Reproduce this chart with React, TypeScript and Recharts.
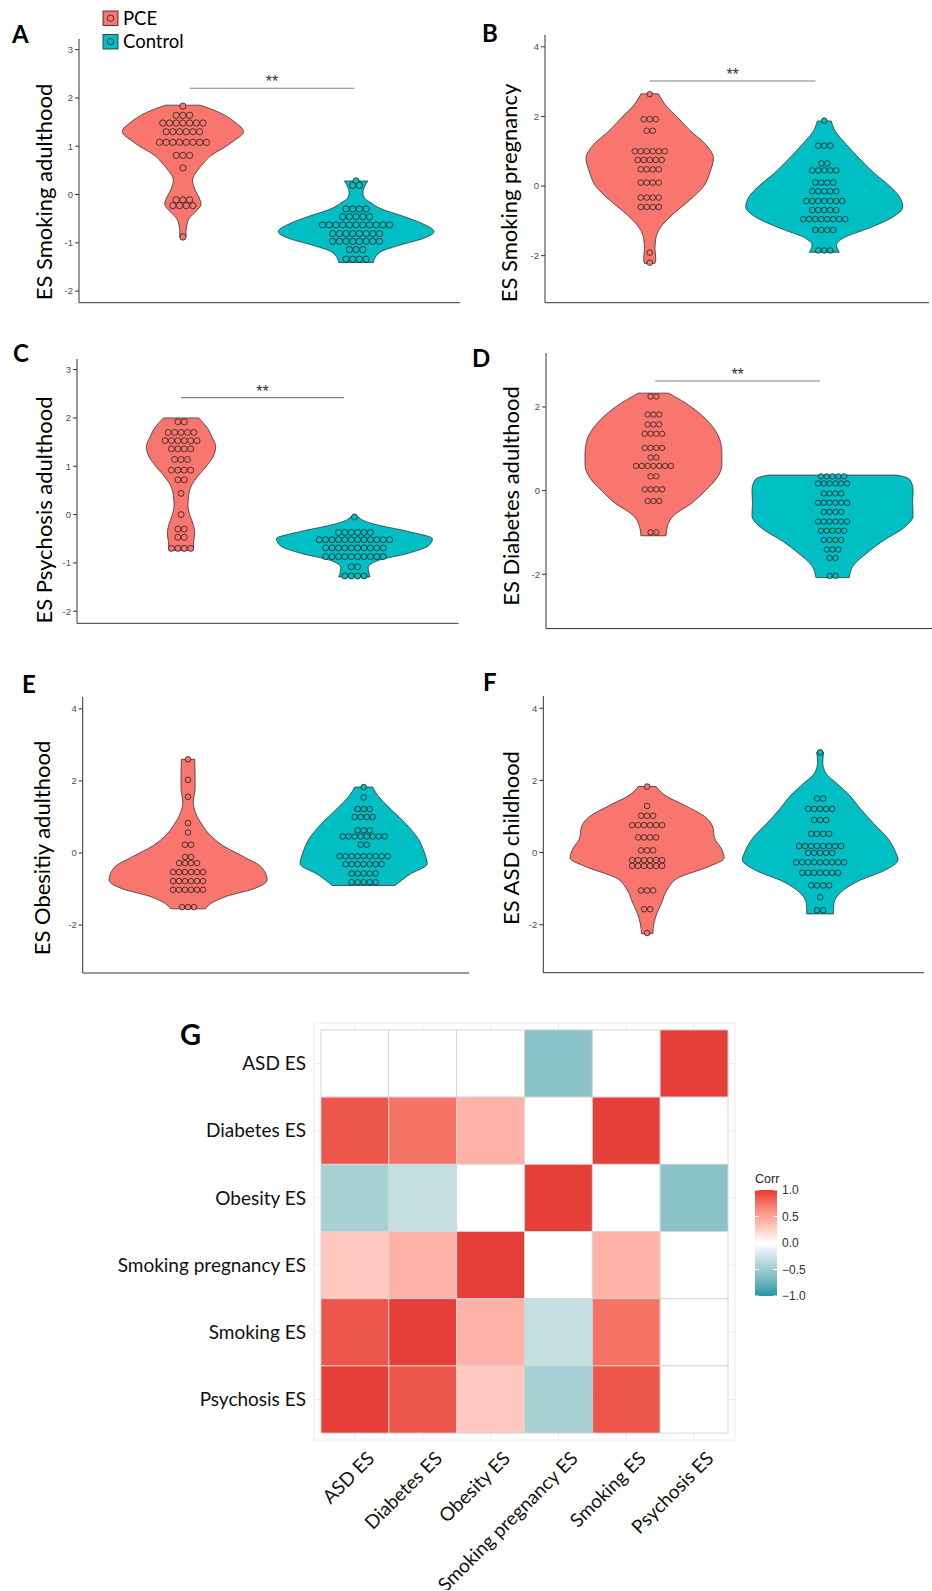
import React from 'react'
import {
  ComposedChart, ScatterChart, Area, Line, Scatter, XAxis, YAxis, ReferenceLine, CartesianGrid,
} from 'recharts'

const PCE_FILL = '#F8766D'
const CTL_FILL = '#00BFC4'
const OUTLINE = '#333333'
const GROUPS = ['PCE', 'Control']

// violin outlines: y value and half width (x units, groups sit at 1 and 2)
const A_PCE_Y = [-0.88, -0.75, -0.65, -0.5, -0.35, -0.2, -0.1, 0.1, 0.3, 0.5, 0.65, 0.8, 1.0, 1.1, 1.3, 1.5, 1.7, 1.85]
const A_PCE_W = [0.018, 0.018, 0.022, 0.035, 0.075, 0.105, 0.098, 0.07, 0.055, 0.085, 0.12, 0.16, 0.25, 0.29, 0.35, 0.3, 0.21, 0.1]
const A_CTL_Y = [-1.41, -1.28, -1.18, -1.04, -0.9, -0.77, -0.59, -0.46, -0.28, -0.18, -0.08, 0.03, 0.17, 0.28]
const A_CTL_W = [0.1, 0.115, 0.145, 0.26, 0.395, 0.45, 0.375, 0.28, 0.135, 0.09, 0.05, 0.04, 0.05, 0.067]

const B_PCE_Y = [-2.22, -2.1, -1.8, -1.5, -1.2, -0.8, -0.4, 0.0, 0.4, 0.8, 1.2, 1.6, 2.0, 2.3, 2.65]
const B_PCE_W = [0.03, 0.035, 0.03, 0.035, 0.06, 0.135, 0.23, 0.31, 0.345, 0.365, 0.32, 0.23, 0.155, 0.095, 0.05]
const B_CTL_Y = [-1.9, -1.7, -1.5, -1.2, -0.9, -0.6, -0.3, 0.0, 0.4, 0.8, 1.2, 1.6, 1.87]
const B_CTL_W = [0.086, 0.07, 0.107, 0.26, 0.39, 0.45, 0.43, 0.375, 0.28, 0.2, 0.126, 0.06, 0.04]

const C_PCE_Y = [-0.74, -0.55, -0.4, -0.2, 0.0, 0.2, 0.4, 0.6, 0.8, 1.0, 1.2, 1.4, 1.6, 1.8, 2.0]
const C_PCE_W = [0.07, 0.073, 0.079, 0.07, 0.05, 0.04, 0.044, 0.06, 0.098, 0.146, 0.185, 0.2, 0.18, 0.15, 0.102]
const C_CTL_Y = [-1.29, -1.1, -0.95, -0.8, -0.65, -0.5, -0.35, -0.2, -0.12, -0.05]
const C_CTL_W = [0.09, 0.079, 0.137, 0.31, 0.425, 0.45, 0.31, 0.117, 0.05, 0.023]

const D_PCE_Y = [-1.08, -0.85, -0.6, -0.3, 0.0, 0.3, 0.6, 0.9, 1.2, 1.5, 1.8, 2.1, 2.33]
const D_PCE_W = [0.07, 0.078, 0.112, 0.214, 0.29, 0.354, 0.382, 0.382, 0.372, 0.335, 0.27, 0.177, 0.084]
const D_CTL_Y = [-2.08, -1.8, -1.5, -1.2, -0.9, -0.6, -0.3, 0.0, 0.2, 0.3, 0.37]
const D_CTL_W = [0.093, 0.115, 0.19, 0.283, 0.395, 0.45, 0.447, 0.45, 0.44, 0.42, 0.36]

const E_PCE_Y = [-1.55, -1.4, -1.2, -1.0, -0.75, -0.4, -0.1, 0.2, 0.5, 0.8, 1.1, 1.4, 1.8, 2.2, 2.6]
const E_PCE_W = [0.1, 0.13, 0.22, 0.37, 0.45, 0.42, 0.315, 0.2, 0.125, 0.078, 0.044, 0.03, 0.04, 0.04, 0.038]
const E_CTL_Y = [-0.9, -0.6, -0.3, 0.0, 0.4, 0.8, 1.2, 1.6, 1.83]
const E_CTL_W = [0.18, 0.26, 0.362, 0.347, 0.31, 0.243, 0.158, 0.08, 0.051]

const F_PCE_Y = [-2.25, -2.1, -1.8, -1.4, -1.0, -0.7, -0.4, -0.15, 0.1, 0.4, 0.7, 1.0, 1.3, 1.6, 1.83]
const F_PCE_W = [0.033, 0.035, 0.048, 0.083, 0.12, 0.18, 0.35, 0.445, 0.43, 0.39, 0.38, 0.333, 0.22, 0.1, 0.052]
const F_CTL_Y = [-1.7, -1.4, -1.1, -0.8, -0.5, -0.2, 0.0, 0.4, 0.8, 1.2, 1.6, 1.9, 2.2, 2.5, 2.78]
const F_CTL_W = [0.077, 0.08, 0.12, 0.216, 0.37, 0.45, 0.437, 0.39, 0.31, 0.235, 0.167, 0.1, 0.033, 0.015, 0.02]

// dot plot rows: bin value and number of stacked dots
const A_PCE_DOT_Y = [1.83, 1.64, 1.48, 1.3, 1.08, 0.81, 0.55, -0.11, -0.23, -0.88]
const A_PCE_DOT_N = [1, 3, 7, 6, 8, 3, 1, 3, 4, 1]
const A_CTL_DOT_Y = [0.28, 0.19, -0.3, -0.46, -0.63, -0.81, -0.97, -1.14, -1.34]
const A_CTL_DOT_N = [1, 2, 4, 5, 11, 8, 8, 3, 4]

const B_PCE_DOT_Y = [2.64, 1.92, 1.59, 1.0, 0.75, 0.48, 0.1, -0.33, -0.6, -1.91, -2.2]
const B_PCE_DOT_N = [1, 3, 2, 6, 5, 4, 4, 4, 4, 1, 1]
const B_CTL_DOT_Y = [1.88, 1.16, 0.65, 0.45, 0.1, -0.15, -0.43, -0.69, -0.95, -1.26, -1.85]
const B_CTL_DOT_N = [1, 3, 2, 5, 4, 5, 7, 5, 8, 4, 3]

const C_PCE_DOT_Y = [1.92, 1.7, 1.53, 1.36, 1.14, 0.92, 0.72, 0.44, 0.0, -0.3, -0.47, -0.7]
const C_PCE_DOT_N = [2, 5, 6, 4, 3, 4, 2, 1, 1, 2, 2, 4]
const C_CTL_DOT_Y = [-0.05, -0.37, -0.52, -0.69, -0.87, -1.08, -1.27]
const C_CTL_DOT_N = [1, 6, 12, 10, 10, 2, 4]

const D_PCE_DOT_Y = [2.25, 1.82, 1.58, 1.36, 1.02, 0.79, 0.59, 0.34, 0.03, -0.25, -1.0]
const D_PCE_DOT_N = [2, 3, 3, 4, 4, 2, 7, 2, 4, 3, 2]
const D_CTL_DOT_Y = [0.34, 0.17, -0.07, -0.29, -0.51, -0.74, -0.96, -1.18, -1.41, -1.61, -2.04]
const D_CTL_DOT_N = [5, 6, 4, 6, 4, 6, 5, 4, 3, 2, 2]

const E_PCE_DOT_Y = [2.6, 2.03, 1.56, 0.83, 0.57, 0.23, -0.11, -0.28, -0.53, -0.78, -1.02, -1.5]
const E_PCE_DOT_N = [1, 1, 1, 1, 1, 2, 2, 4, 6, 6, 6, 3]
const E_CTL_DOT_Y = [1.83, 1.54, 1.22, 1.0, 0.63, 0.46, 0.23, -0.09, -0.31, -0.57, -0.81]
const E_CTL_DOT_N = [1, 1, 3, 4, 3, 8, 2, 9, 7, 5, 5]

const F_PCE_DOT_Y = [1.83, 1.29, 1.02, 0.76, 0.42, 0.06, -0.21, -0.37, -1.05, -1.57, -2.23]
const F_PCE_DOT_N = [1, 1, 3, 6, 4, 3, 6, 6, 3, 2, 1]
const F_CTL_DOT_Y = [2.78, 1.5, 1.21, 0.9, 0.52, 0.18, -0.01, -0.27, -0.56, -0.91, -1.24, -1.6]
const F_CTL_DOT_N = [1, 2, 5, 3, 4, 8, 5, 9, 7, 4, 1, 2]

const TICKS_FULL = [-2, -1, 0, 1, 2, 3]
const TICKS_WIDE = [-2, 0, 2, 4]
const TICKS_D = [-2, 0, 2]

// heatmap (rows listed top to bottom)
const HEAT_COLS = ['ASD ES', 'Diabetes ES', 'Obesity ES', 'Smoking pregnancy ES', 'Smoking ES', 'Psychosis ES']
const HEAT_ROWS = ['ASD ES', 'Diabetes ES', 'Obesity ES', 'Smoking pregnancy ES', 'Smoking ES', 'Psychosis ES']
const CORR_ASD = [0, 0, 0, -0.6, 0, 0.98]
const CORR_DIABETES = [0.88, 0.75, 0.42, 0, 0.98, 0]
const CORR_OBESITY = [-0.45, -0.3, 0, 0.98, 0, -0.6]
const CORR_SMOKING_PREG = [0.3, 0.42, 0.98, 0, 0.42, 0]
const CORR_SMOKING = [0.88, 0.98, 0.42, -0.3, 0.75, 0]
const CORR_PSYCHOSIS = [0.98, 0.88, 0.3, -0.45, 0.88, 0]
const CORR_MATRIX = [CORR_ASD, CORR_DIABETES, CORR_OBESITY, CORR_SMOKING_PREG, CORR_SMOKING, CORR_PSYCHOSIS]
const LEGEND_TICKS = [1, 0.5, 0, -0.5, -1]

const HIGH = '#E53935'
const LOW = '#1F9AA5'

// ---- colour helpers (Lab interpolation like scale_fill_gradient2)
function hexToRgb(h: string) {
  const n = parseInt(h.slice(1), 16)
  return [(n >> 16) & 255, (n >> 8) & 255, n & 255]
}
const toLin = (c: number) => {
  c /= 255
  return c <= 0.04045 ? c / 12.92 : Math.pow((c + 0.055) / 1.055, 2.4)
}
const fromLin = (c: number) => {
  const v = c <= 0.0031308 ? 12.92 * c : 1.055 * Math.pow(c, 1 / 2.4) - 0.055
  return Math.round(Math.max(0, Math.min(1, v)) * 255)
}
const fLab = (t: number) => (t > 0.008856 ? Math.cbrt(t) : 7.787 * t + 16 / 116)
const fInv = (t: number) => (t > 0.2069 ? t * t * t : (t - 16 / 116) / 7.787)
function rgbToLab(rgb: number[]) {
  const [r, g, b] = rgb.map(toLin)
  const X = (0.4124 * r + 0.3576 * g + 0.1805 * b) / 0.95047
  const Y = 0.2126 * r + 0.7152 * g + 0.0722 * b
  const Z = (0.0193 * r + 0.1192 * g + 0.9505 * b) / 1.08883
  return [116 * fLab(Y) - 16, 500 * (fLab(X) - fLab(Y)), 200 * (fLab(Y) - fLab(Z))]
}
function labToHex(lab: number[]) {
  const fy = (lab[0] + 16) / 116
  const X = fInv(fy + lab[1] / 500) * 0.95047
  const Y = fInv(fy)
  const Z = fInv(fy - lab[2] / 200) * 1.08883
  const r = 3.2406 * X - 1.5372 * Y - 0.4986 * Z
  const g = -0.9689 * X + 1.8758 * Y + 0.0415 * Z
  const b = 0.0557 * X - 0.204 * Y + 1.057 * Z
  return '#' + [r, g, b].map(fromLin).map(v => v.toString(16).padStart(2, '0')).join('')
}
const WHITE_LAB = rgbToLab([255, 255, 255])
const HIGH_LAB = rgbToLab(hexToRgb(HIGH))
const LOW_LAB = rgbToLab(hexToRgb(LOW))
function corrColor(v: number) {
  const end = v >= 0 ? HIGH_LAB : LOW_LAB
  const t = Math.min(1, Math.abs(v))
  return labToHex(WHITE_LAB.map((w, i) => w + (end[i] - w) * t))
}

// ---- violin panels
type Profile = { y: number[]; w: number[] }
type Stack = { y: number[]; n: number[] }
type Panel = {
  letter: string; title: string
  pce: Profile; ctl: Profile; pceDots: Stack; ctlDots: Stack
  domain: [number, number]; ticks: number[]
  wrapX: number; plotX: number; plotR: number; plotT: number; plotB: number
  titleX: number; titleY: number; dotD: number
  letterX: number; letterY: number
  sig: { y: number; x1: number; x2: number } | null
}

const PANELS: Panel[] = [
  {
    letter: 'A', title: 'ES Smoking adulthood',
    pce: { y: A_PCE_Y, w: A_PCE_W }, ctl: { y: A_CTL_Y, w: A_CTL_W },
    pceDots: { y: A_PCE_DOT_Y, n: A_PCE_DOT_N }, ctlDots: { y: A_CTL_DOT_Y, n: A_CTL_DOT_N },
    domain: [-2.24, 3.22], ticks: TICKS_FULL,
    wrapX: 0, plotX: 79, plotR: 460, plotT: 39, plotB: 302.7, titleX: 46, titleY: 192, dotD: 6.7,
    letterX: 12, letterY: 43, sig: { y: 2.2, x1: 1.04, x2: 1.99 },
  },
  {
    letter: 'B', title: 'ES Smoking pregnancy',
    pce: { y: B_PCE_Y, w: B_PCE_W }, ctl: { y: B_CTL_Y, w: B_CTL_W },
    pceDots: { y: B_PCE_DOT_Y, n: B_PCE_DOT_N }, ctlDots: { y: B_CTL_DOT_Y, n: B_CTL_DOT_N },
    domain: [-3.35, 4.34], ticks: TICKS_WIDE,
    wrapX: 466, plotX: 545, plotR: 929, plotT: 35, plotB: 302.7, titleX: 511, titleY: 193, dotD: 6.0,
    letterX: 482, letterY: 42, sig: { y: 3.02, x1: 1.0, x2: 1.95 },
  },
  {
    letter: 'C', title: 'ES Psychosis adulthood',
    pce: { y: C_PCE_Y, w: C_PCE_W }, ctl: { y: C_CTL_Y, w: C_CTL_W },
    pceDots: { y: C_PCE_DOT_Y, n: C_PCE_DOT_N }, ctlDots: { y: C_CTL_DOT_Y, n: C_CTL_DOT_N },
    domain: [-2.25, 3.22], ticks: TICKS_FULL,
    wrapX: 0, plotX: 77, plotR: 458.5, plotT: 359, plotB: 623.3, titleX: 46, titleY: 510, dotD: 6.4,
    letterX: 13, letterY: 362, sig: { y: 2.42, x1: 1.0, x2: 1.94 },
  },
  {
    letter: 'D', title: 'ES Diabetes adulthood',
    pce: { y: D_PCE_Y, w: D_PCE_W }, ctl: { y: D_CTL_Y, w: D_CTL_W },
    pceDots: { y: D_PCE_DOT_Y, n: D_PCE_DOT_N }, ctlDots: { y: D_CTL_DOT_Y, n: D_CTL_DOT_N },
    domain: [-3.3, 3.29], ticks: TICKS_D,
    wrapX: 466, plotX: 546, plotR: 940, plotT: 352.7, plotB: 628.3, titleX: 513, titleY: 496, dotD: 5.8,
    letterX: 472, letterY: 367, sig: { y: 2.62, x1: 1.01, x2: 1.93 },
  },
  {
    letter: 'E', title: 'ES Obesitiy adulthood',
    pce: { y: E_PCE_Y, w: E_PCE_W }, ctl: { y: E_CTL_Y, w: E_CTL_W },
    pceDots: { y: E_PCE_DOT_Y, n: E_PCE_DOT_N }, ctlDots: { y: E_CTL_DOT_Y, n: E_CTL_DOT_N },
    domain: [-3.33, 4.33], ticks: TICKS_WIDE,
    wrapX: 0, plotX: 82.7, plotR: 469, plotT: 696.7, plotB: 972.7, titleX: 44, titleY: 848, dotD: 6.0,
    letterX: 22, letterY: 693, sig: null,
  },
  {
    letter: 'F', title: 'ES ASD childhood',
    pce: { y: F_PCE_Y, w: F_PCE_W }, ctl: { y: F_CTL_Y, w: F_CTL_W },
    pceDots: { y: F_PCE_DOT_Y, n: F_PCE_DOT_N }, ctlDots: { y: F_CTL_DOT_Y, n: F_CTL_DOT_N },
    domain: [-3.33, 4.34], ticks: TICKS_WIDE,
    wrapX: 466, plotX: 543.3, plotR: 924, plotT: 696, plotB: 972.7, titleX: 513.5, titleY: 838, dotD: 6.0,
    letterX: 483, letterY: 691, sig: null,
  },
]

// one row per outline sample; the other group's keys stay empty so its curves break there
function violinRows(pce: Profile, ctl: Profile) {
  const rows: any[] = []
  pce.y.forEach((y, i) => rows.push({ y, pce: [1 - pce.w[i], 1 + pce.w[i]], pceL: 1 - pce.w[i], pceR: 1 + pce.w[i] }))
  ctl.y.forEach((y, i) => rows.push({ y, ctl: [2 - ctl.w[i], 2 + ctl.w[i]], ctlL: 2 - ctl.w[i], ctlR: 2 + ctl.w[i] }))
  return rows
}

// centred dot stacks like geom_dotplot(stackdir = 'center')
function dotPoints(s: Stack, center: number, step: number) {
  const pts: { x: number; y: number }[] = []
  s.y.forEach((y, i) => {
    const n = s.n[i]
    for (let k = 0; k < n; k++) pts.push({ x: center + (k - (n - 1) / 2) * step, y })
  })
  return pts
}

function flatEnds(p: Profile, center: number, key: string) {
  return [0, p.y.length - 1].map(i => (
    <ReferenceLine
      key={key + i}
      segment={[{ x: center - p.w[i], y: p.y[i] }, { x: center + p.w[i], y: p.y[i] }]}
      stroke={OUTLINE}
      strokeWidth={0.8}
      ifOverflow="visible"
    />
  ))
}

function edgeLine(key: string) {
  return (
    <Line key={key} dataKey={key} type="monotone" stroke={OUTLINE} strokeWidth={0.8}
      dot={false} activeDot={false} legendType="none" isAnimationActive={false} />
  )
}

function ViolinPanel({ p }: { p: Panel }) {
  const mt = 12
  const yw = p.plotX - p.wrapX
  const plotW = p.plotR - p.plotX
  const plotH = p.plotB - p.plotT
  const step = p.dotD / (plotW / 2.2)
  const r = p.dotD / 2 - 0.2
  const dot = (fill: string) => (props: any) => (
    <circle cx={props.cx} cy={props.cy} r={r} fill={fill} stroke="#1a1a1a" strokeWidth={0.75} />
  )
  return (
    <div style={{ position: 'absolute', left: p.wrapX, top: p.plotT - mt }}>
      <ComposedChart
        layout="vertical"
        width={yw + plotW + 2}
        height={mt + plotH + 10}
        data={violinRows(p.pce, p.ctl)}
        margin={{ top: mt, right: 2, bottom: 0, left: 0 }}
      >
        <XAxis type="number" dataKey="x" domain={[0.4, 2.6]} ticks={[1, 2]} tick={false}
          tickSize={4} height={10} stroke={OUTLINE} allowDataOverflow />
        <YAxis type="number" dataKey="y" domain={p.domain} ticks={p.ticks} interval={0} reversed
          width={yw} tickSize={4} tickMargin={2} stroke={OUTLINE} allowDataOverflow
          tick={{ fontSize: 9.5, fill: '#4d4d4d', fontFamily: 'Liberation Sans' }} />
        <Area dataKey="pce" name={GROUPS[0]} type="monotone" fill={PCE_FILL} fillOpacity={1}
          stroke="none" dot={false} activeDot={false} isAnimationActive={false} />
        <Area dataKey="ctl" name={GROUPS[1]} type="monotone" fill={CTL_FILL} fillOpacity={1}
          stroke="none" dot={false} activeDot={false} isAnimationActive={false} />
        {edgeLine('pceL')}
        {edgeLine('pceR')}
        {edgeLine('ctlL')}
        {edgeLine('ctlR')}
        {flatEnds(p.pce, 1, 'pe')}
        {flatEnds(p.ctl, 2, 'ce')}
        <Scatter data={dotPoints(p.pceDots, 1, step)} shape={dot(PCE_FILL)} isAnimationActive={false} />
        <Scatter data={dotPoints(p.ctlDots, 2, step)} shape={dot(CTL_FILL)} isAnimationActive={false} />
        {p.sig && (
          <ReferenceLine
            segment={[{ x: p.sig.x1, y: p.sig.y }, { x: p.sig.x2, y: p.sig.y }]}
            stroke="#808080"
            strokeWidth={1.1}
            ifOverflow="visible"
            label={{ value: '**', position: 'top', offset: 1, fill: '#333', fontSize: 16, fontFamily: 'Liberation Sans' }}
          />
        )}
      </ComposedChart>
    </div>
  )
}

// ---- heatmap
const HEAT_DOMAIN: [number, number] = [-0.603, 5.603]
const HEAT_IDX = [0, 1, 2, 3, 4, 5]

const HeatXTick = (props: any) => {
  const { x, y, payload } = props
  return (
    <g transform={`translate(${x + 11},${y + 10})`}>
      <text transform="rotate(-45)" textAnchor="end" dy="0.72em" fontSize={19} fontFamily="Lato" fill="#111">
        {HEAT_COLS[payload.value]}
      </text>
    </g>
  )
}

function Heatmap() {
  const wrapX = 90
  const wrapY = 1008
  const plotX = 314
  const plotT = 1023
  const plotW = 421
  const plotH = 417
  const mt = plotT - wrapY
  const yw = plotX - wrapX
  const span = HEAT_DOMAIN[1] - HEAT_DOMAIN[0]
  const cw = plotW / span
  const ch = plotH / span
  const cells: { x: number; y: number; v: number }[] = []
  CORR_MATRIX.forEach((row, ri) => row.forEach((v, ci) => cells.push({ x: ci, y: 5 - ri, v })))
  return (
    <div style={{ position: 'absolute', left: wrapX, top: wrapY }}>
      <ScatterChart width={yw + plotW + 10} height={mt + plotH + 150} margin={{ top: mt, right: 10, bottom: 0, left: 0 }}>
        <CartesianGrid stroke="#EBEBEB" strokeWidth={1} />
        <XAxis type="number" dataKey="x" domain={HEAT_DOMAIN} ticks={HEAT_IDX} interval={0}
          height={150} axisLine={false} tickLine={false} tickSize={0} tickMargin={0} tick={HeatXTick} allowDataOverflow />
        <YAxis type="number" dataKey="y" domain={HEAT_DOMAIN} ticks={HEAT_IDX} interval={0}
          width={yw} axisLine={false} tickLine={false} tickSize={0} tickMargin={8} allowDataOverflow
          tickFormatter={(i: number) => HEAT_ROWS[5 - i]}
          tick={{ fontSize: 19, fontFamily: 'Lato', fill: '#111' }} />
        <Scatter
          data={cells}
          isAnimationActive={false}
          shape={(props: any) => (
            <rect x={props.cx - cw / 2} y={props.cy - ch / 2} width={cw} height={ch}
              fill={corrColor(props.payload.v)} stroke="#D4D4D4" strokeWidth={0.9} />
          )}
        />
      </ScatterChart>
    </div>
  )
}

// ---- annotations: panel letters, axis titles, group legend, colour bar
function Overlay() {
  const barX = 755
  const barT = 1190
  const barH = 106
  const stops = [1, 0.75, 0.5, 0.25, 0, -0.25, -0.5, -0.75, -1]
  const titleSize = 22
  return (
    <svg width={932} height={1591} style={{ position: 'absolute', left: 0, top: 0, pointerEvents: 'none' }}>
      <defs>
        <linearGradient id="corrbar" x1="0" y1="0" x2="0" y2="1">
          {stops.map((v, i) => (
            <stop key={i} offset={`${(i / (stops.length - 1)) * 100}%`} stopColor={corrColor(v)} />
          ))}
        </linearGradient>
      </defs>
      {PANELS.map(p => (
        <g key={p.letter}>
          <text x={p.letterX} y={p.letterY} fontSize={24} fontWeight="bold" fontFamily="Lato" fill="#000">
            {p.letter}
          </text>
          <text
            transform={`translate(${p.titleX + titleSize * 0.27},${p.titleY}) rotate(-90)`}
            textAnchor="middle" fontSize={titleSize} fontFamily="Lato" fill="#000"
          >
            {p.title}
          </text>
        </g>
      ))}
      <text x={180} y={1045} fontSize={29} fontWeight="bold" fontFamily="Lato" fill="#000">G</text>

      {GROUPS.map((g, i) => {
        const top = 11 + i * 23.5
        const fill = i === 0 ? PCE_FILL : CTL_FILL
        return (
          <g key={g}>
            <rect x={103} y={top} width={15} height={14.5} fill={fill} stroke={OUTLINE} strokeWidth={0.9} />
            <circle cx={110.5} cy={top + 7.2} r={3.2} fill={fill} stroke="#222" strokeWidth={0.8} />
            <text x={123} y={top + 13.5} fontSize={18.5} fontFamily="Lato" fill="#000">{g}</text>
          </g>
        )
      })}

      <text x={barX} y={1183} fontSize={12.5} fontFamily="Liberation Sans" fill="#222">Corr</text>
      <rect x={barX} y={barT} width={22} height={barH} fill="url(#corrbar)" />
      {LEGEND_TICKS.map(v => {
        const y = barT + ((1 - v) / 2) * barH
        return (
          <g key={v}>
            <line x1={barX} x2={barX + 4} y1={y} y2={y} stroke="#fff" strokeWidth={1} />
            <line x1={barX + 18} x2={barX + 22} y1={y} y2={y} stroke="#fff" strokeWidth={1} />
            <text x={barX + 27} y={y + 4.3} fontSize={12} fontFamily="Liberation Sans" fill="#333">
              {v < 0 ? '\u2212' + Math.abs(v).toFixed(1) : v.toFixed(1)}
            </text>
          </g>
        )
      })}
    </svg>
  )
}

export default function App() {
  return (
    <div style={{ position: 'absolute', left: 0, top: 0, width: 932, height: 1591, overflow: 'hidden', background: '#fff', fontFamily: 'Lato' }}>
      {PANELS.map(p => <ViolinPanel key={p.letter} p={p} />)}
      <Heatmap />
      <Overlay />
    </div>
  )
}
